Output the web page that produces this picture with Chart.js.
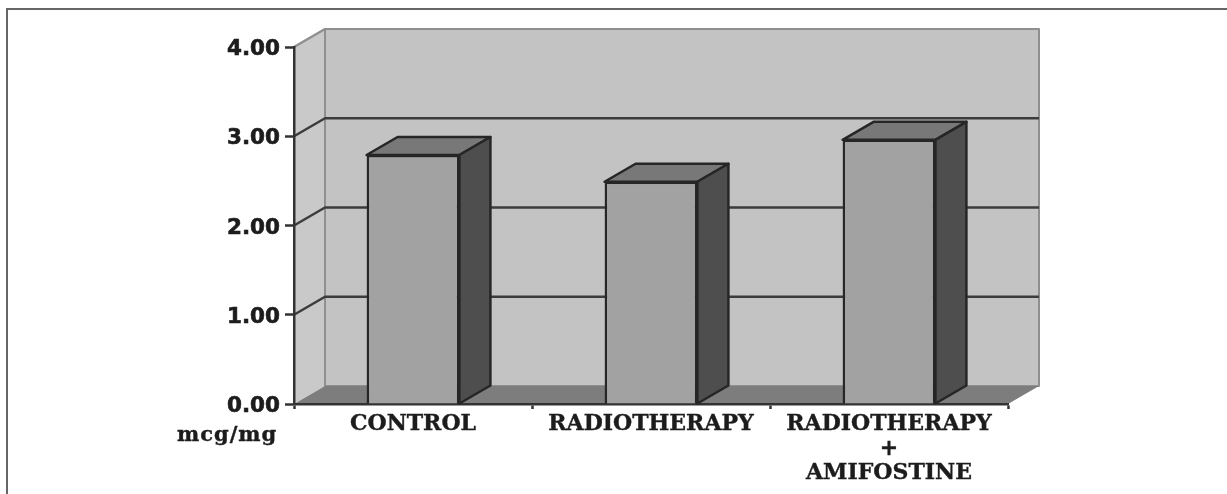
<!DOCTYPE html>
<html>
<head>
<meta charset="utf-8">
<title>mcg/mg chart</title>
<script src="https://cdn.jsdelivr.net/npm/chart.js@4"></script>
<style>
    html, body { margin: 0; padding: 0; background: #fff; overflow: hidden; }
    #frame { position: absolute; left: 6px; top: 8px; right: 0; bottom: 0; border-top: 2px solid #666; border-left: 2px solid #666; }
    #chart { position: absolute; left: 0; top: 0; filter: blur(0.7px); }
</style>
</head>
<body>
<div id="frame"></div>
<canvas id="chart" width="1227" height="494"></canvas>
<script>
// data
const categories = ['CONTROL', 'RADIOTHERAPY', ['RADIOTHERAPY', '+', 'AMIFOSTINE']];
const values = [2.79, 2.49, 2.96];
const unitLabel = 'mcg/mg';
const yMax = 4;
const yStep = 1;

// depth of the fake 3d box, in pixels
const depthX = 31;
const depthY = -18;

const poly = (ctx, pts, fill, stroke, width) => {
    ctx.beginPath();
    pts.forEach((p, i) => i ? ctx.lineTo(p[0], p[1]) : ctx.moveTo(p[0], p[1]));
    ctx.closePath();
    ctx.fillStyle = fill;
    ctx.fill();
    if (stroke) {
        ctx.strokeStyle = stroke;
        ctx.lineWidth = width;
        ctx.lineJoin = 'round';
        ctx.stroke();
    }
};

const box3d = {
    id: 'box3d',
    // Walls, floor and gridlines go under the axes
    beforeDraw(chart) {
        const { ctx, chartArea: a, scales: { y } } = chart;
        const dx = depthX, dy = depthY;
        ctx.save();
        poly(ctx, [[a.left, a.top], [a.left + dx, a.top + dy], [a.left + dx, a.bottom + dy], [a.left, a.bottom]], '#c9c9c9');
        poly(ctx, [[a.left + dx, a.top + dy], [a.right + dx, a.top + dy], [a.right + dx, a.bottom + dy], [a.left + dx, a.bottom + dy]], '#c3c3c3', '#8f8f8f', 2);
        poly(ctx, [[a.left, a.bottom], [a.right, a.bottom], [a.right + dx, a.bottom + dy], [a.left + dx, a.bottom + dy]], '#7d7d7d');
        y.ticks.forEach(t => {
            if (t.value === 0) return;
            const py = y.getPixelForValue(t.value);
            ctx.beginPath();
            ctx.moveTo(a.left, py);
            ctx.lineTo(a.left + dx, py + dy);
            if (t.value < yMax) ctx.lineTo(a.right + dx, py + dy);
            ctx.strokeStyle = t.value < yMax ? '#3c3c3c' : '#8f8f8f';
            ctx.lineWidth = 2.5;
            ctx.stroke();
        });
        ctx.restore();

        // tick text sits a little lower than the library puts it
        y.getLabelItems().forEach(item => { item.textOffset += 2.5; });
    },
    // top and side faces of each bar
    afterDatasetsDraw(chart) {
        const { ctx } = chart;
        const dx = depthX, dy = depthY;
        ctx.save();
        chart.getDatasetMeta(0).data.forEach(bar => {
            const l = bar.x - bar.width / 2, r = bar.x + bar.width / 2;
            poly(ctx, [[l, bar.y], [l + dx, bar.y + dy], [r + dx, bar.y + dy], [r, bar.y]], '#787878', '#262626', 2.5);
            poly(ctx, [[r, bar.y], [r + dx, bar.y + dy], [r + dx, bar.base + dy], [r, bar.base]], '#4e4e4e', '#262626', 2.5);
        });
        ctx.restore();
    },
    afterDraw(chart) {
        const { ctx } = chart;
        ctx.save();
        ctx.font = 'bold 21px "DejaVu Serif"';
        ctx.fillStyle = '#1c1c1c';
        ctx.strokeStyle = '#1c1c1c';
        ctx.lineWidth = 0.4;
        ctx.textAlign = 'left';
        ctx.textBaseline = 'middle';
        ctx.letterSpacing = '1px';
        ctx.strokeText(unitLabel, 177, 436);
        ctx.fillText(unitLabel, 177, 436);
        ctx.restore();
    }
};

new Chart(document.getElementById('chart'), {
    type: 'bar',
    data: {
        labels: categories,
        datasets: [{
            data: values,
            backgroundColor: '#a2a2a2',
            borderColor: '#262626',
            borderWidth: 2.5,
            barPercentage: 0.39,
            categoryPercentage: 1
        }]
    },
    options: {
        responsive: false,
        animation: false,
        layout: { padding: { top: 47, right: 219 } },
        plugins: { legend: { display: false }, tooltip: { enabled: false } },
        scales: {
            x: {
                afterFit: scale => { scale.height = 90; },
                grid: { drawOnChartArea: false, tickLength: 5, tickColor: '#333', tickWidth: 2.5 },
                border: { color: '#333', width: 2.5 },
                ticks: {
                    autoSkip: false,
                    maxRotation: 0,
                    padding: 3,
                    color: '#1c1c1c',
                    textStrokeColor: '#1c1c1c',
                    textStrokeWidth: 0.4,
                    font: { family: '"DejaVu Serif"', weight: 'bold', size: 22, lineHeight: 1.12 }
                }
            },
            y: {
                min: 0,
                max: yMax,
                afterFit: scale => { scale.width = 294; },
                grid: { drawOnChartArea: false, tickLength: 9, tickColor: '#333', tickWidth: 2.5 },
                border: { color: '#333', width: 2.5 },
                ticks: {
                    stepSize: yStep,
                    padding: 5,
                    color: '#1c1c1c',
                    textStrokeColor: '#1c1c1c',
                    textStrokeWidth: 0.6,
                    callback: v => v.toFixed(2),
                    font: { family: '"DejaVu Sans"', weight: 'bold', size: 21.5 }
                }
            }
        }
    },
    plugins: [box3d]
});
</script>
</body>
</html>
